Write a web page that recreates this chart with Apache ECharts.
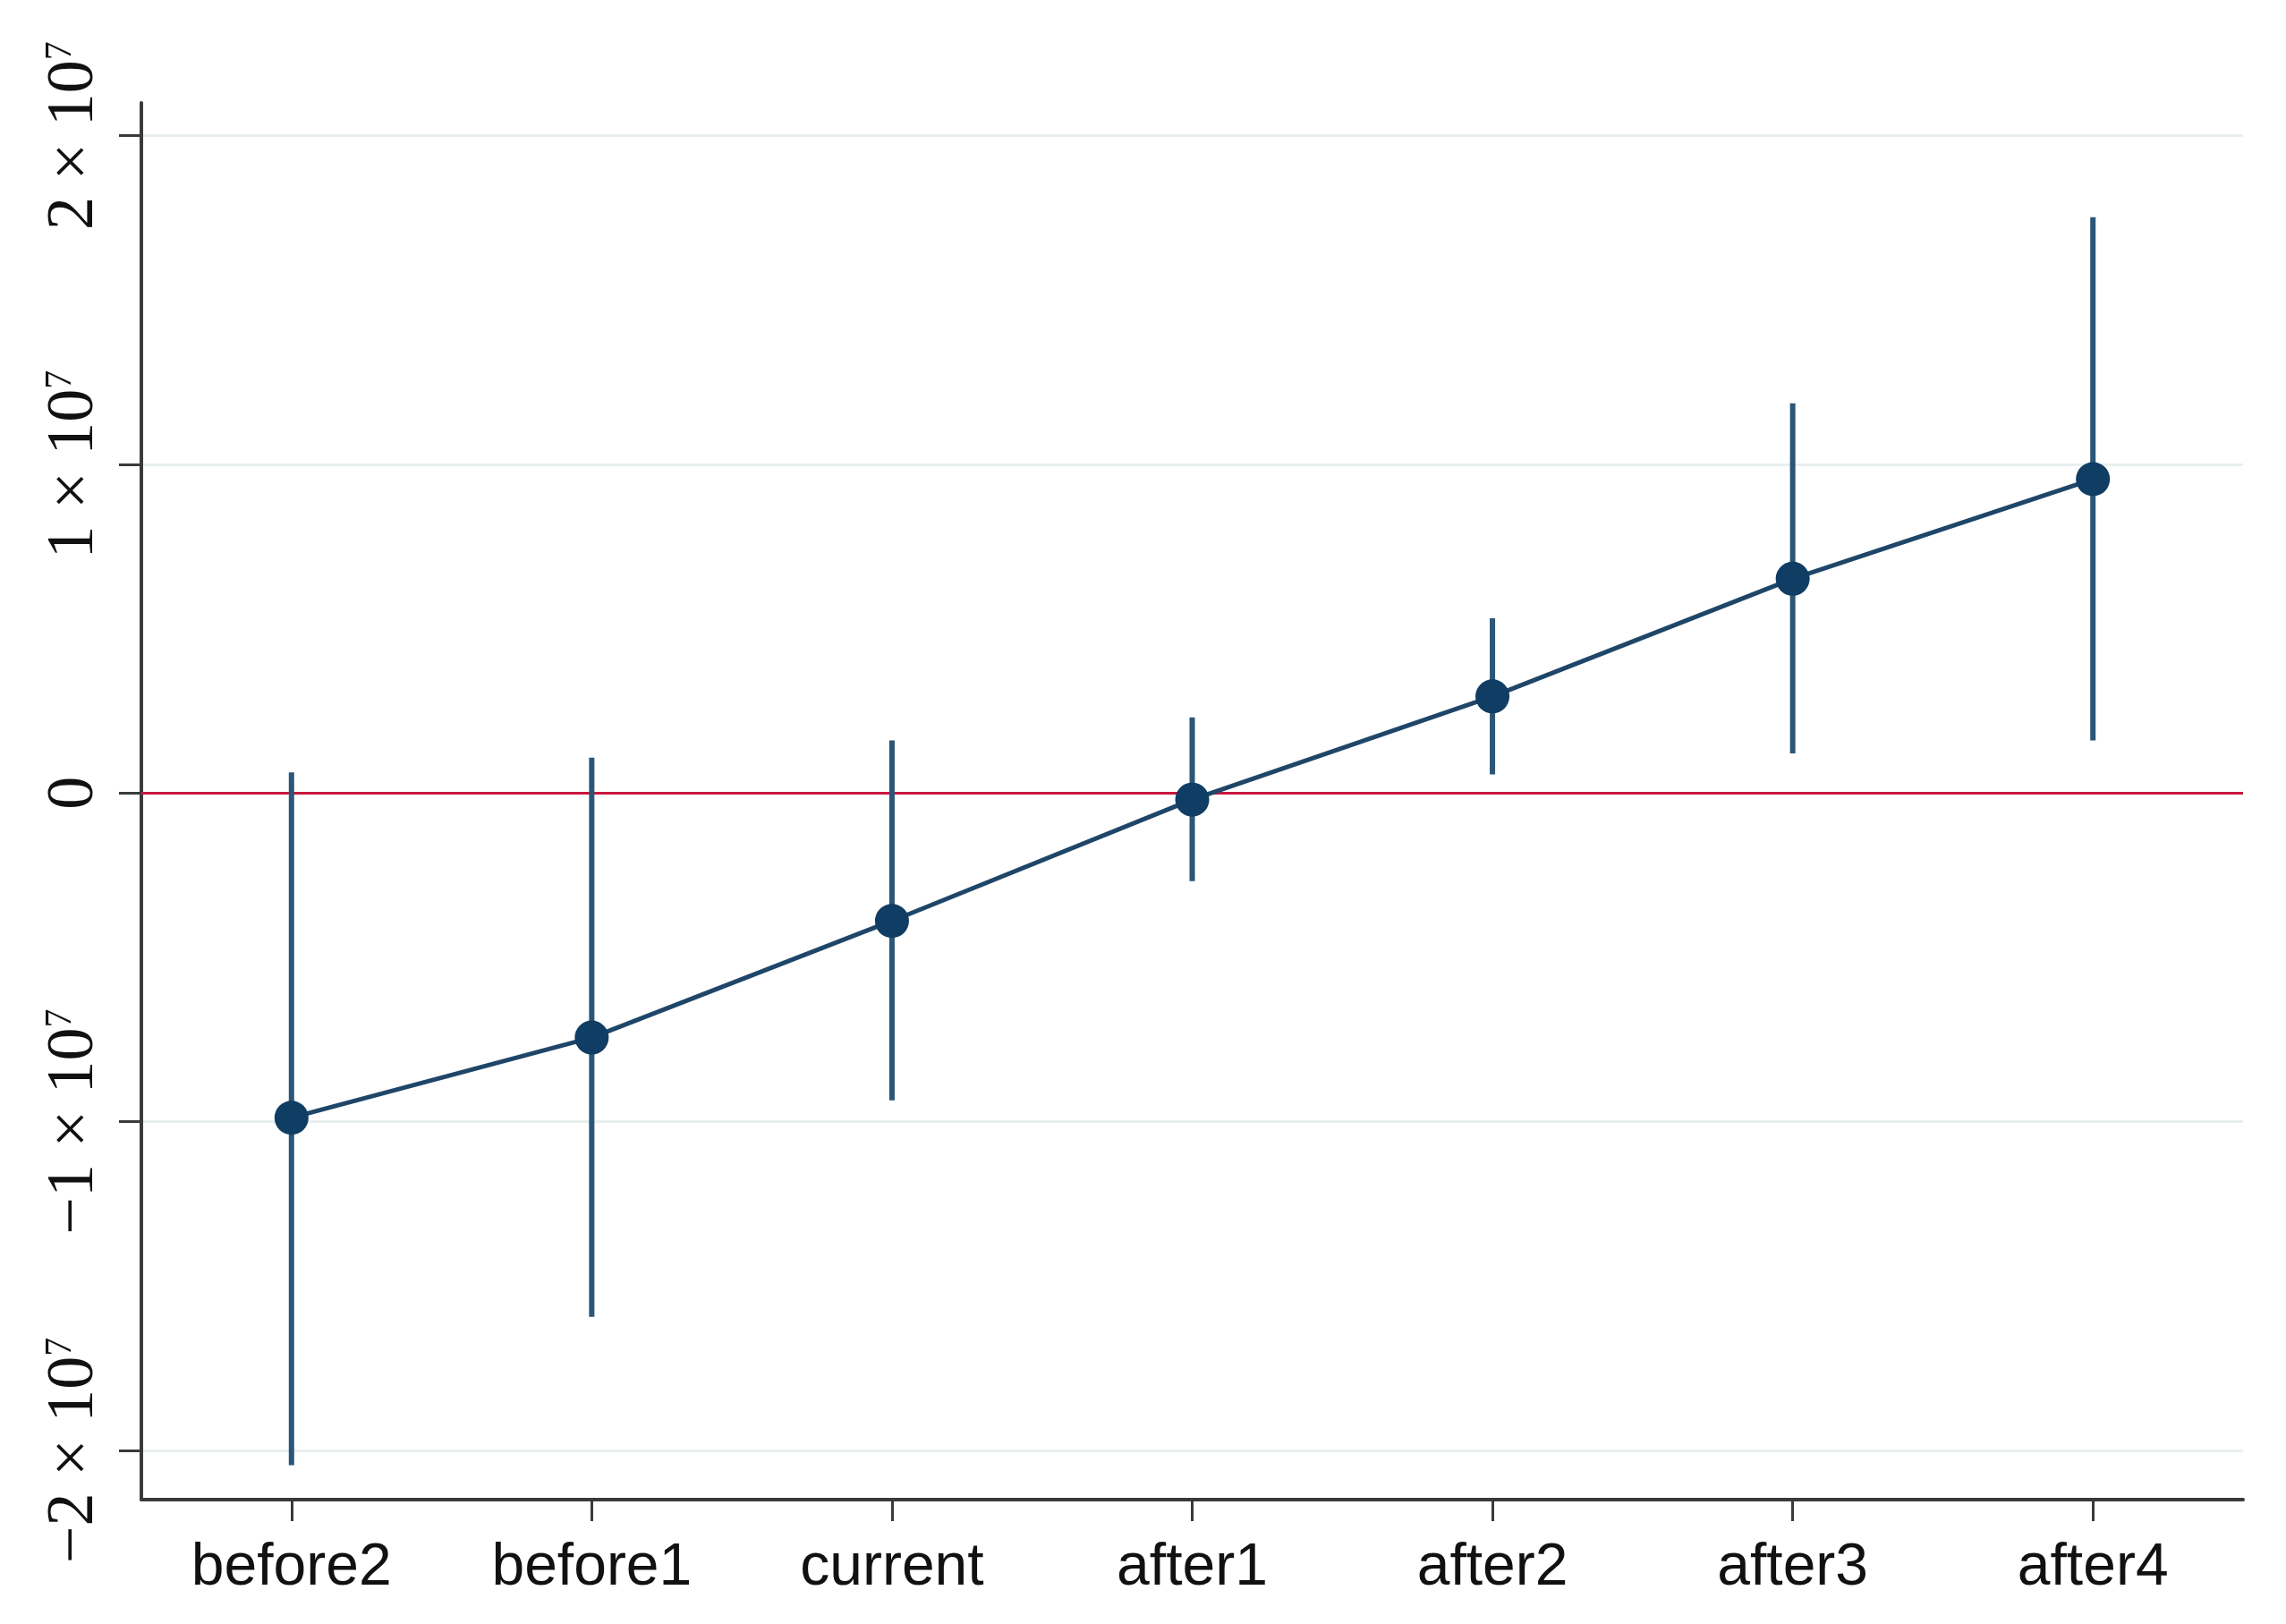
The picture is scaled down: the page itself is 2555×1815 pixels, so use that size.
<!DOCTYPE html>
<html>
<head>
<meta charset="utf-8">
<script src="https://cdn.jsdelivr.net/npm/echarts@6/dist/echarts.min.js"></script>
<style>
html,body{margin:0;padding:0;background:#fff;}
#chart{width:2555px;height:1815px;}
</style>
</head>
<body>
<div id="chart"></div>
<script>
const categories = ['before2','before1','current','after1','after2','after3','after4'];
const estimates = [-0.988e7, -0.744e7, -0.389e7, -0.020e7, 0.294e7, 0.652e7, 0.955e7];
const ciLower = [-2.045e7, -1.594e7, -0.935e7, -0.268e7, 0.057e7, 0.121e7, 0.160e7];
const ciUpper = [0.063e7, 0.108e7, 0.160e7, 0.230e7, 0.532e7, 1.186e7, 1.752e7];
const yTicks = [-2e7, -1e7, 0, 1e7, 2e7];
const gridValues = [-2e7, -1e7, 1e7, 2e7];
const refValue = 0;

const chart = echarts.init(document.getElementById('chart'));

function yLabel(v) {
  if (v === 0) return '{b|0}';
  const m = Math.round(v / 1e7);
  const s = (m < 0 ? '\u2212' : '') + Math.abs(m);
  return '{b|' + s + ' \u00d7 10}{s|7}';
}

const option = {
  animation: false,
  backgroundColor: '#ffffff',
  grid: { left: 158, right: 48, top: 115, bottom: 139, containLabel: false },
  xAxis: {
    type: 'category',
    data: categories,
    boundaryGap: true,
    axisLine: { show: true, onZero: false, lineStyle: { color: '#3a3a3a', width: 4 } },
    axisTick: { show: true, alignWithLabel: true, interval: 0, length: 24, lineStyle: { color: '#3a3a3a', width: 3 } },
    axisLabel: {
      interval: 0,
      margin: 44,
      color: '#111',
      fontFamily: "'Liberation Sans', Arial, sans-serif",
      fontSize: 66
    },
    splitLine: { show: false }
  },
  yAxis: {
    type: 'value',
    min: -2.15e7,
    max: 2.1e7,
    axisLine: { show: true, lineStyle: { color: '#3a3a3a', width: 4 } },
    axisTick: { show: true, length: 25, customValues: yTicks, lineStyle: { color: '#3a3a3a', width: 3 } },
    axisLabel: {
      customValues: yTicks,
      rotate: 90,
      margin: 37,
      formatter: yLabel,
      rich: {
        b: { fontFamily: "'Liberation Serif', 'DejaVu Serif', serif", fontSize: 74, color: '#111' },
        s: { fontFamily: "'Liberation Serif', 'DejaVu Serif', serif", fontSize: 42, color: '#111', verticalAlign: 'top', padding: [0, 0, 26, 0] }
      }
    },
    splitLine: { show: false }
  },
  series: [
    {
      type: 'line',
      name: 'grid',
      z: 0,
      silent: true,
      data: [],
      markLine: {
        silent: true,
        symbol: 'none',
        z: 0,
        label: { show: false },
        lineStyle: { color: '#e9eff1', width: 3, type: 'solid' },
        data: gridValues.map(v => ({ yAxis: v }))
      }
    },
    {
      type: 'custom',
      name: 'ci',
      z: 3,
      silent: true,
      renderItem: function (params, api) {
        const x = api.value(0);
        const lo = api.coord([x, api.value(1)]);
        const hi = api.coord([x, api.value(2)]);
        return {
          type: 'line',
          shape: { x1: lo[0], y1: lo[1], x2: hi[0], y2: hi[1] },
          style: { stroke: '#2b5677', lineWidth: 6 }
        };
      },
      data: categories.map((c, i) => [i, ciLower[i], ciUpper[i]])
    },
    {
      type: 'line',
      name: 'estimate',
      z: 4,
      data: estimates,
      symbol: 'circle',
      symbolSize: 38,
      itemStyle: { color: '#0f3d63', borderWidth: 0 },
      lineStyle: { color: '#1f4668', width: 5 },
      markLine: {
        silent: true,
        symbol: 'none',
        z: 2,
        label: { show: false },
        lineStyle: { color: '#c8163f', width: 3, type: 'solid' },
        data: [{ yAxis: refValue }]
      }
    }
  ]
};
chart.setOption(option);
</script>
</body>
</html>
